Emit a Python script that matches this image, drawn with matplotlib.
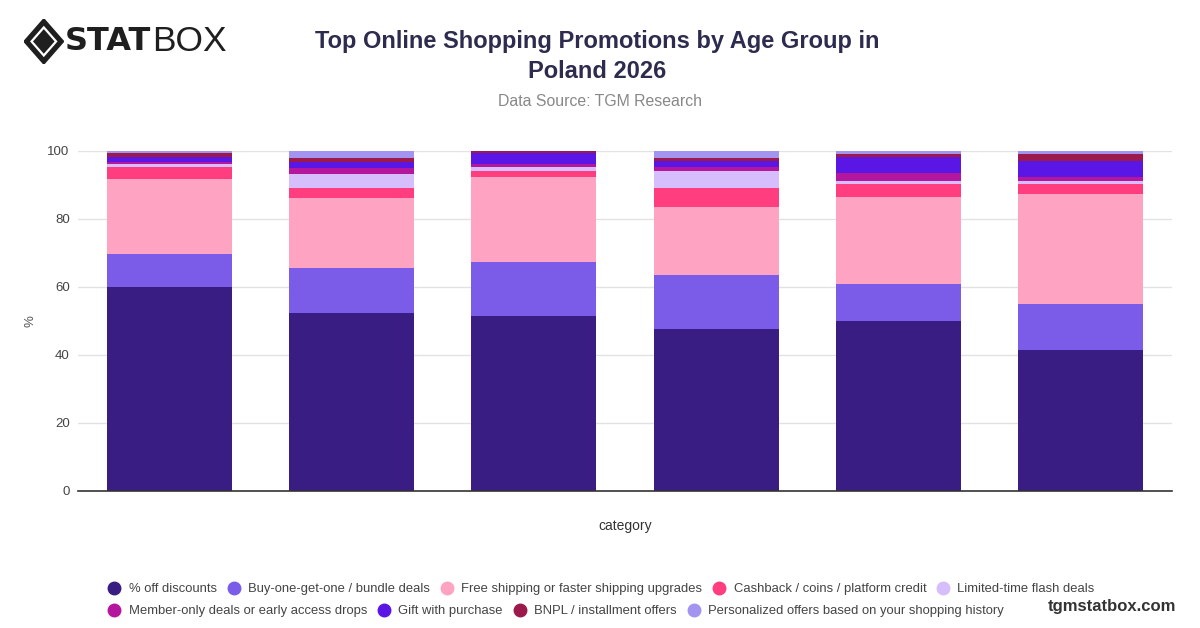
import numpy as np
import matplotlib
matplotlib.use("Agg")
import matplotlib.pyplot as plt
from matplotlib.lines import Line2D
from matplotlib.patches import Polygon

plt.rcParams["font.family"] = ["Liberation Sans", "DejaVu Sans"]

# age groups (not printed on the axis in the original)
categories = ["18-24", "25-34", "35-44", "45-54", "55-64", "65+"]

series_names = [
    "% off discounts",
    "Buy-one-get-one / bundle deals",
    "Free shipping or faster shipping upgrades",
    "Cashback / coins / platform credit",
    "Limited-time flash deals",
    "Member-only deals or early access drops",
    "Gift with purchase",
    "BNPL / installment offers",
    "Personalized offers based on your shopping history",
]

pct_off     = [60.0, 52.4, 51.5, 47.6, 50.0, 41.5]
bogo        = [9.8, 13.2, 15.9, 15.9, 10.9, 13.5]
free_ship   = [22.0, 20.6, 24.8, 20.0, 25.5, 32.3]
cashback    = [3.5, 2.9, 2.0, 5.5, 3.9, 2.9]
flash       = [0.8, 4.0, 1.0, 5.1, 1.0, 1.0]
member      = [0.6, 2.0, 1.0, 1.2, 2.1, 1.0]
gift        = [1.6, 1.8, 3.1, 1.8, 4.7, 4.9]
bnpl        = [1.1, 1.1, 0.6, 0.9, 1.0, 2.0]
personal    = [0.6, 2.0, 0.1, 2.0, 0.9, 0.9]

colors = ["#3a1d82", "#7b5ce9", "#ffa3c2", "#ff3d7f", "#d6bdfb",
          "#b4179e", "#5a16e4", "#9b1a4b", "#a394f0"]

series = [pct_off, bogo, free_ship, cashback, flash, member, gift, bnpl, personal]

fig = plt.figure(figsize=(12, 6.28), dpi=100)
ax = fig.add_axes([0.065, 0.2182, 0.9117, 0.5414])

x = np.arange(len(categories))
bottom = np.zeros(len(categories))
for vals, col, name in zip(series, colors, series_names):
    ax.bar(x, vals, bottom=bottom, width=0.685, color=col, linewidth=0,
           label=name, zorder=3)
    bottom += np.array(vals)

ax.set_xlim(-0.5, len(categories) - 0.5)
ax.set_ylim(0, 100)
ax.set_yticks([0, 20, 40, 60, 80, 100])
ax.set_xticks([])
ax.grid(axis="y", color="#e2e2e2", linewidth=1, zorder=0)
for s in ["top", "right", "left"]:
    ax.spines[s].set_visible(False)
ax.spines["bottom"].set_color("#333333")
ax.spines["bottom"].set_linewidth(1.2)
ax.spines["bottom"].set_zorder(4)
ax.tick_params(axis="y", length=0, labelsize=9.5, labelcolor="#444444", pad=6)
ax.set_xlabel("category", fontsize=10, color="#333333", labelpad=20)
ax.set_ylabel("%", fontsize=9.5, color="#555555", labelpad=8)

# title block
fig.text(0.498, 0.91, "Top Online Shopping Promotions by Age Group in\nPoland 2026",
         ha="center", va="center", fontsize=17, fontweight="bold",
         color="#2d2b4e", linespacing=1.35)
fig.text(0.5, 0.838, "Data Source: TGM Research", ha="center", va="center",
         fontsize=11.4, color="#888888")

# logo
lax = fig.add_axes([0.02, 0.898, 0.033, 0.072])
lax.set_xlim(-1, 1)
lax.set_ylim(-1, 1)
lax.axis("off")
lax.add_patch(Polygon([[0, 1], [1, 0], [0, -1], [-1, 0]], closed=True,
                      color="#1f1f1f", joinstyle="round"))
lax.add_patch(Polygon([[0, 0.62], [0.62, 0], [0, -0.62], [-0.62, 0]], closed=True,
                      facecolor="#1f1f1f", edgecolor="white", linewidth=1.6))
fig.text(0.054, 0.934, "STAT", ha="left", va="center", fontsize=23,
         fontweight="heavy", color="#1f1f1f", family="DejaVu Sans")
fig.text(0.127, 0.934, "BOX", ha="left", va="center", fontsize=25.5,
         color="#1f1f1f")

# legend, two rows
handles = [Line2D([0], [0], marker="o", color="w", markerfacecolor=c,
                  markeredgecolor=c, markersize=9) for c in colors]
leg_kw = dict(loc="center left", frameon=False, fontsize=9.4, handletextpad=0.6,
              columnspacing=0.8, handlelength=1.0, labelcolor="#444444")
fig.legend(handles[:5], series_names[:5], ncol=5,
           bbox_to_anchor=(0.08, 0.062), **leg_kw)
fig.legend(handles[5:], series_names[5:], ncol=4,
           bbox_to_anchor=(0.08, 0.027), **leg_kw)

fig.text(0.98, 0.034, "tgmstatbox.com", ha="right", va="center", fontsize=12,
         fontweight="bold", color="#333333")

fig.savefig("out.png", dpi=100)
